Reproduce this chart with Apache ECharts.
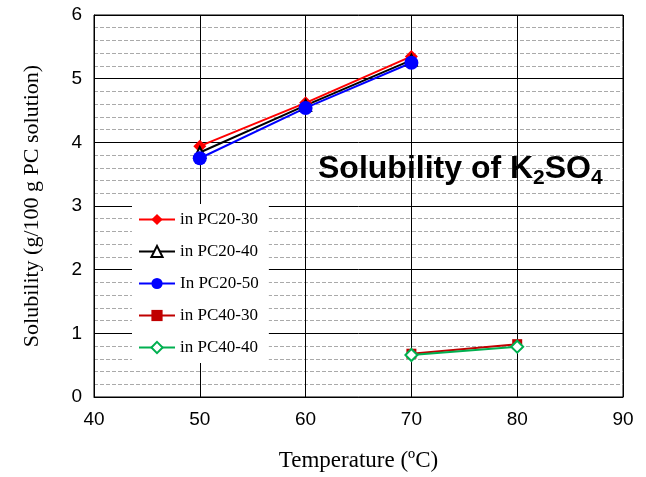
<!DOCTYPE html>
<html>
<head>
<meta charset="utf-8">
<script src="https://cdn.jsdelivr.net/npm/echarts@6/dist/echarts.min.js"></script>
<style>
  html, body { margin: 0; padding: 0; background: #fff; }
  #chart { width: 646px; height: 477px; }
</style>
</head>
<body>
<div id="chart"></div>
<script>
// Temperatures (°C) and solubility (g/100 g PC solution) per solvent mix
const tempsPC20 = [50, 60, 70];
const tempsPC40 = [70, 80];
const pc20_30 = [3.94, 4.62, 5.35];
const pc20_40 = [3.84, 4.58, 5.29];
const pc20_50 = [3.75, 4.54, 5.25];
const pc40_30 = [0.68, 0.83];
const pc40_40 = [0.66, 0.79];
const seriesNames = ['in PC20-30', 'in PC20-40', 'In PC20-50', 'in PC40-30', 'in PC40-40'];

const pairs = (xs, ys) => xs.map((x, i) => [x, ys[i]]);

const chart = echarts.init(document.getElementById('chart'));

function lineSeries(name, data, color, symbol, size, hollow) {
  return {
    name: name,
    type: 'line',
    data: data,
    symbol: symbol,
    symbolSize: size,
    lineStyle: { color: color, width: 2 },
    itemStyle: hollow
      ? { color: '#fff', borderColor: color, borderWidth: 2 }
      : { color: color, borderColor: color, borderWidth: 0 },
    emphasis: { disabled: true },
    z: 3
  };
}

chart.setOption({
  animation: false,
  backgroundColor: '#fff',
  grid: { left: 94, right: 23, top: 15, bottom: 78, show: true, borderColor: '#000', borderWidth: 1 },
  xAxis: {
    type: 'value', min: 40, max: 90, interval: 10,
    name: 'Temperature (ºC)', nameLocation: 'middle', nameGap: 52,
    nameTextStyle: { fontFamily: 'Liberation Serif', fontSize: 23, color: '#000' },
    axisLine: { show: true, lineStyle: { color: '#000' } },
    axisTick: { show: false },
    axisLabel: { fontFamily: 'Liberation Sans', fontSize: 19, color: '#000', margin: 13 },
    splitLine: { show: true, lineStyle: { color: '#000', width: 1 } }
  },
  yAxis: {
    type: 'value', min: 0, max: 6, interval: 1,
    name: 'Solubility (g/100 g PC solution)', nameLocation: 'middle', nameGap: 51,
    nameTextStyle: { fontFamily: 'Liberation Serif', fontSize: 22, color: '#000' },
    axisLine: { show: true, lineStyle: { color: '#000' } },
    axisTick: { show: false },
    axisLabel: { fontFamily: 'Liberation Sans', fontSize: 19, color: '#000', margin: 12 },
    splitLine: { show: true, lineStyle: { color: '#000', width: 1 } },
    minorTick: { show: false, splitNumber: 5 },
    minorSplitLine: { show: true, lineStyle: { color: '#aaa', type: 'dashed', width: 1 } }
  },
  legend: {
    orient: 'vertical', left: 132, top: 204,
    data: seriesNames,
    itemWidth: 36, itemHeight: 14, itemGap: 15,
    backgroundColor: '#fff', padding: [7, 10, 7, 6],
    textStyle: { fontFamily: 'Liberation Serif', fontSize: 17, color: '#000' }
  },
  graphic: [{
    type: 'text', left: 318, top: 153, z: 10,
    style: {
      rich: {
        t: { fontFamily: 'Liberation Sans', fontSize: 32, fontWeight: 'bold', fill: '#000' },
        s: { fontFamily: 'Liberation Sans', fontSize: 21, fontWeight: 'bold', fill: '#000', padding: [18, 0, 0, 0] }
      },
      text: '{t|Solubility of K}{s|2}{t|SO}{s|4}'
    }
  }],
  series: [
    lineSeries(seriesNames[0], pairs(tempsPC20, pc20_30), '#ff0000', 'diamond', 13, false),
    lineSeries(seriesNames[1], pairs(tempsPC20, pc20_40), '#000000', 'triangle', 11, true),
    lineSeries(seriesNames[2], pairs(tempsPC20, pc20_50), '#0000ff', 'circle', 14, false),
    lineSeries(seriesNames[3], pairs(tempsPC40, pc40_30), '#c00000', 'rect', 10, false),
    lineSeries(seriesNames[4], pairs(tempsPC40, pc40_40), '#00b050', 'diamond', 12, true)
  ]
});
</script>
</body>
</html>
